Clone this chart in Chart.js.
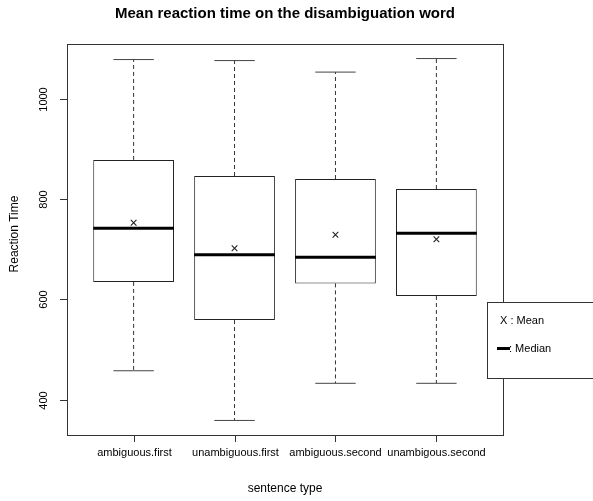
<!DOCTYPE html>
<html>
<head>
<meta charset="utf-8">
<title>Mean reaction time</title>
<style>
  body { margin: 0; background: #fff; }
  #wrap { width: 593px; height: 501px; }
</style>
</head>
<body>
<div id="wrap"><canvas id="box"></canvas></div>
<script src="https://cdn.jsdelivr.net/npm/chart.js"></script>
<script>
// values
var categories = ['ambiguous.first', 'unambiguous.first', 'ambiguous.second', 'unambigous.second'];
var whiskerLow  = [458, 359, 433, 433];
var q1          = [635, 559, 632, 607];
var medians     = [742, 689, 684, 732];
var q3          = [878, 846, 840, 820];
var whiskerHigh = [1078, 1076, 1053, 1080];
var means       = [753, 702, 729, 720];
var yTicks = [400, 600, 800, 1000];

var xPos = categories.map(function (c, i) { return i + 1; });

var datasets = [];

// boxes
datasets.push({
  type: 'bar',
  data: xPos.map(function (x, i) { return { x: x, y: [q1[i], q3[i]] }; }),
  backgroundColor: '#fff',
  borderColor: '#222',
  borderWidth: 1,
  borderSkipped: false,
  barPercentage: 1,
  categoryPercentage: 0.8,
  order: 5
});

// dashed whiskers
xPos.forEach(function (x, i) {
  [[q3[i], whiskerHigh[i]], [q1[i], whiskerLow[i]]].forEach(function (seg) {
    datasets.push({
      type: 'line',
      data: [{ x: x, y: seg[0] }, { x: x, y: seg[1] }],
      borderColor: '#333',
      borderWidth: 1,
      borderDash: [4, 3],
      pointRadius: 0,
      order: 4
    });
  });
});

// whisker caps
datasets.push({
  type: 'scatter',
  data: xPos.map(function (x, i) { return { x: x, y: whiskerHigh[i] }; })
    .concat(xPos.map(function (x, i) { return { x: x, y: whiskerLow[i] }; })),
  pointStyle: 'line',
  pointRadius: 20.2,
  borderColor: '#444',
  borderWidth: 1,
  order: 3
});

// medians
datasets.push({
  type: 'scatter',
  data: xPos.map(function (x, i) { return { x: x, y: medians[i] }; }),
  pointStyle: 'line',
  pointRadius: 40.4,
  borderColor: '#000',
  borderWidth: 3,
  order: 2
});

// means
datasets.push({
  type: 'scatter',
  data: xPos.map(function (x, i) { return { x: x, y: means[i] }; }),
  pointStyle: 'crossRot',
  pointRadius: 4,
  borderColor: '#222',
  borderWidth: 1.1,
  order: 1
});

var rDecor = {
  id: 'rDecor',
  afterDraw: function (chart) {
    var ctx = chart.ctx, a = chart.chartArea;
    var xs = chart.scales.x, ys = chart.scales.y;
    ctx.save();
    ctx.strokeStyle = '#333';
    ctx.lineWidth = 1;
    ctx.strokeRect(Math.round(a.left) + 0.5, Math.round(a.top) + 0.5,
      Math.round(a.right - a.left), Math.round(a.bottom - a.top));

    ctx.fillStyle = '#000';
    // y axis
    ctx.font = '11px "Liberation Sans", Arial, sans-serif';
    yTicks.forEach(function (v) {
      var py = Math.round(ys.getPixelForValue(v)) + 0.5;
      ctx.beginPath();
      ctx.moveTo(a.left - 7, py);
      ctx.lineTo(a.left, py);
      ctx.stroke();
      ctx.save();
      ctx.translate(47, py);
      ctx.rotate(-Math.PI / 2);
      ctx.textAlign = 'center';
      ctx.textBaseline = 'alphabetic';
      ctx.fillText(String(v), 0, 0);
      ctx.restore();
    });
    // x axis
    ctx.font = '11px "Liberation Sans", Arial, sans-serif';
    ctx.textAlign = 'center';
    ctx.textBaseline = 'middle';
    xPos.forEach(function (v, i) {
      var px = Math.round(xs.getPixelForValue(v)) + 0.5;
      ctx.beginPath();
      ctx.moveTo(px, a.bottom);
      ctx.lineTo(px, a.bottom + 7);
      ctx.stroke();
      ctx.fillText(categories[i], px, 453);
    });

    var cx = (a.left + a.right) / 2;
    ctx.font = 'bold 15px "Liberation Sans", Arial, sans-serif';
    ctx.fillText('Mean reaction time on the disambiguation word', cx, 14);
    ctx.font = '12px "Liberation Sans", Arial, sans-serif';
    ctx.fillText('sentence type', cx, 489);
    ctx.save();
    ctx.translate(15, 234);
    ctx.rotate(-Math.PI / 2);
    ctx.fillText('Reaction Time', 0, 0);
    ctx.restore();

    // legend box
    ctx.fillStyle = '#fff';
    ctx.fillRect(487.5, 302.5, 120, 76);
    ctx.strokeRect(487.5, 302.5, 120, 76);
    ctx.fillStyle = '#000';
    ctx.font = '11px "Liberation Sans", Arial, sans-serif';
    ctx.textAlign = 'left';
    ctx.fillText('X : Mean', 500, 321);
    ctx.fillText(': Median', 509, 349);
    ctx.lineWidth = 3;
    ctx.strokeStyle = '#000';
    ctx.beginPath();
    ctx.moveTo(497, 348.5);
    ctx.lineTo(510, 348.5);
    ctx.stroke();
    ctx.restore();
  }
};

new Chart(document.getElementById('box'), {
  type: 'bar',
  data: { datasets: datasets },
  options: {
    responsive: true,
    maintainAspectRatio: false,
    animation: false,
    events: [],
    layout: { padding: { left: 67, top: 44, right: 90, bottom: 66 } },
    plugins: { legend: { display: false }, title: { display: false }, tooltip: { enabled: false } },
    scales: {
      x: {
        type: 'linear', display: false, offset: false, min: 0.34, max: 4.66,
        afterBuildTicks: function (s) { s.ticks = xPos.map(function (v) { return { value: v }; }); }
      },
      y: { type: 'linear', display: false, min: 330, max: 1109 }
    }
  },
  plugins: [rDecor]
});
</script>
</body>
</html>
